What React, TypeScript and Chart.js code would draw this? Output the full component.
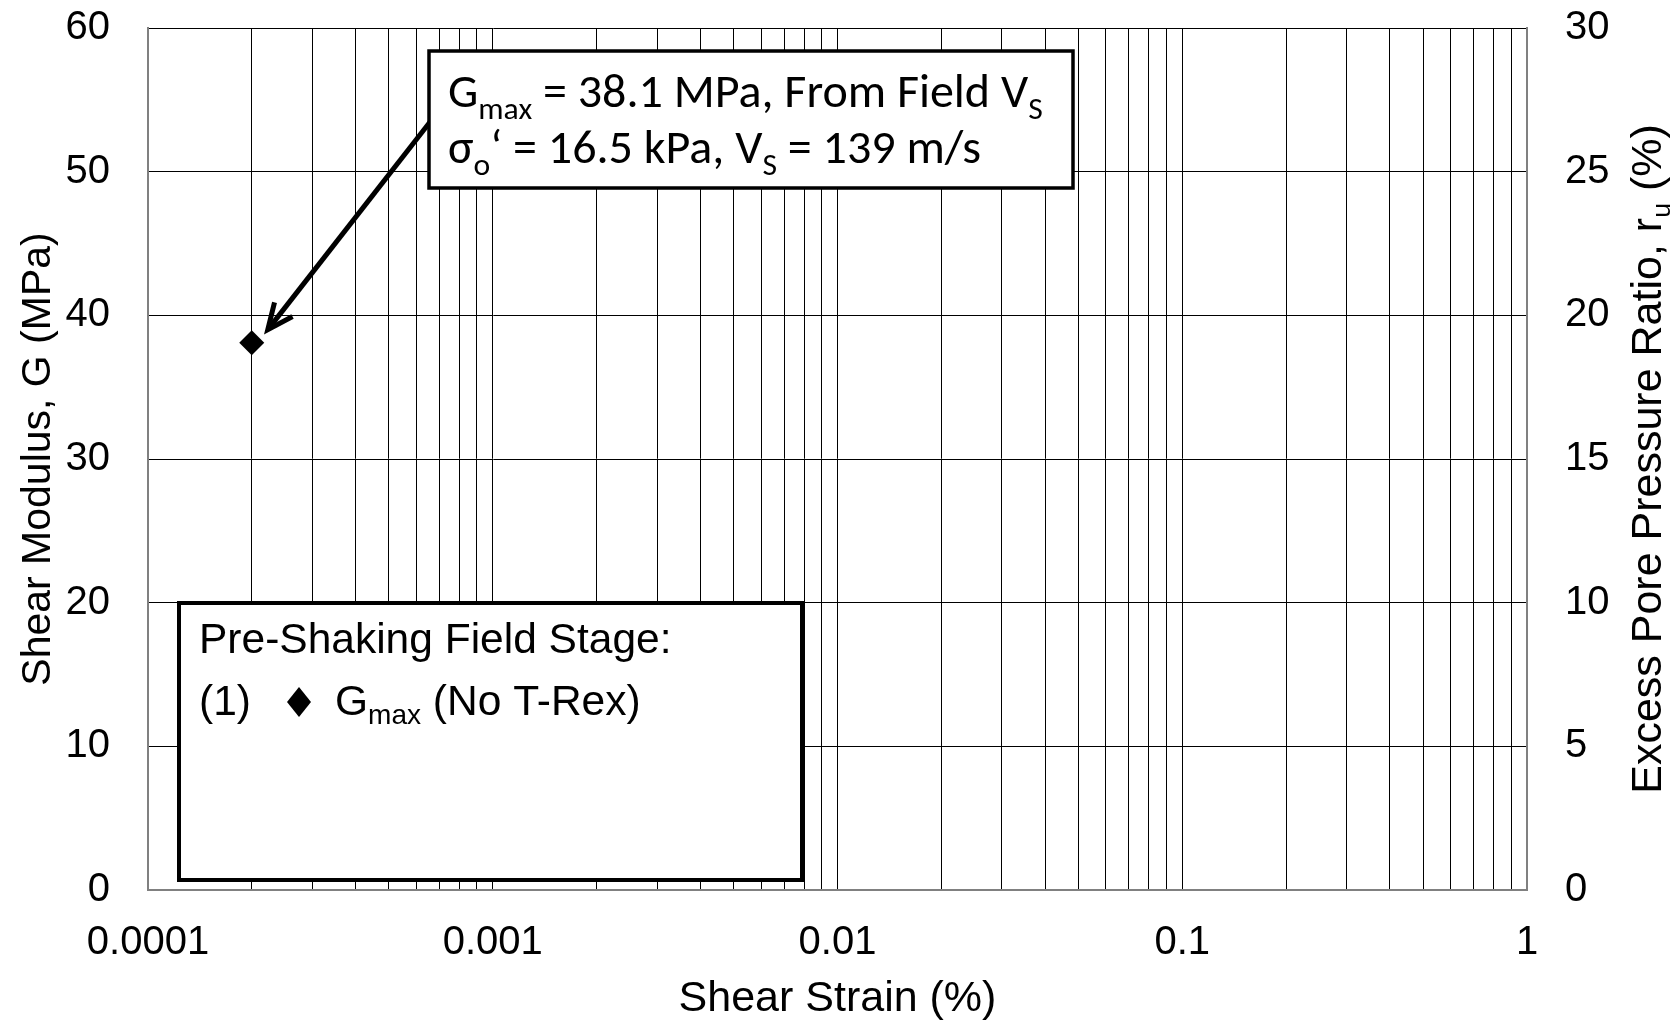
import React, { useEffect, useRef } from 'react';
import { Chart, registerables } from 'chart.js';

Chart.register(...registerables);

// ---- data ----
const strainValues = [0.0002];
const gmaxValues = [38.1];
const xMajorTicks = [0.0001, 0.001, 0.01, 0.1, 1];
const xTickLabels = ['0.0001', '0.001', '0.01', '0.1', '1'];
const minorMultipliers = [2, 3, 4, 5, 6, 7, 8, 9];
const leftRange = [0, 60];
const leftStep = 10;
const rightRange = [0, 30];
const rightStep = 5;

const ARIAL = '"Liberation Sans", Arial, sans-serif';
const CALIBRI = 'Carlito, Lato, "Liberation Sans", sans-serif';

type Seg = { t: string; sub?: boolean };

function segFont(size: number, sub: boolean | undefined, family: string, ratio: number) {
  return `${sub ? size * ratio : size}px ${family}`;
}
function richWidth(ctx: CanvasRenderingContext2D, segs: Seg[], size: number, family: string, ratio = 0.65) {
  let w = 0;
  for (const s of segs) {
    ctx.font = segFont(size, s.sub, family, ratio);
    w += ctx.measureText(s.t).width;
  }
  return w;
}
function drawRich(
  ctx: CanvasRenderingContext2D,
  segs: Seg[],
  x: number,
  y: number,
  size: number,
  family: string,
  ratio = 0.65,
  drop = 0.25
) {
  let cx = x;
  for (const s of segs) {
    ctx.font = segFont(size, s.sub, family, ratio);
    ctx.fillText(s.t, cx, s.sub ? y + size * drop : y);
    cx += ctx.measureText(s.t).width;
  }
}

const annotationPlugin = {
  id: 'annotations',
  afterDraw(chart: any) {
    const ctx: CanvasRenderingContext2D = chart.ctx;
    const area = chart.chartArea;
    const xs = chart.scales.x;
    const ys = chart.scales.y;
    ctx.save();
    ctx.fillStyle = '#000';
    ctx.strokeStyle = '#000';
    ctx.textBaseline = 'alphabetic';
    ctx.textAlign = 'left';

    // right axis title (reads bottom to top, with subscript)
    const rt: Seg[] = [{ t: 'Excess Pore Pressure Ratio, r' }, { t: 'u', sub: true }, { t: ' (%)' }];
    const rsize = 43;
    const rw = richWidth(ctx, rt, rsize, ARIAL, 0.62);
    ctx.save();
    ctx.translate(1646, (area.top + area.bottom) / 2);
    ctx.rotate(-Math.PI / 2);
    drawRich(ctx, rt, -rw / 2, rsize * 0.36, rsize, ARIAL, 0.62, 0.2);
    ctx.restore();

    // arrow from annotation box to the data point
    const px = xs.getPixelForValue(strainValues[0]);
    const py = ys.getPixelForValue(gmaxValues[0]);
    const tipX = px + 16;
    const tipY = py - 13;
    const startX = 430;
    const startY = 122;
    ctx.lineWidth = 5;
    ctx.lineCap = 'butt';
    ctx.beginPath();
    ctx.moveTo(startX, startY);
    ctx.lineTo(tipX + 2, tipY - 2.5);
    ctx.stroke();
    const ang = Math.atan2(tipY - startY, tipX - startX);
    const head = 28;
    const spread = 0.42;
    ctx.lineJoin = 'miter';
    ctx.beginPath();
    ctx.moveTo(tipX - head * Math.cos(ang - spread), tipY - head * Math.sin(ang - spread));
    ctx.lineTo(tipX, tipY);
    ctx.lineTo(tipX - head * Math.cos(ang + spread), tipY - head * Math.sin(ang + spread));
    ctx.stroke();

    // annotation box
    const bx = 429, by = 51, bw = 644, bh = 137;
    ctx.fillStyle = '#fff';
    ctx.fillRect(bx, by, bw, bh);
    ctx.lineWidth = 3.5;
    ctx.strokeRect(bx, by, bw, bh);
    ctx.fillStyle = '#000';
    const l1: Seg[] = [{ t: 'G' }, { t: 'max', sub: true }, { t: ' = 38.1 MPa, From Field V' }, { t: 'S', sub: true }];
    const l2: Seg[] = [{ t: 'σ' }, { t: 'o', sub: true }, { t: '‘ = 16.5 kPa, V' }, { t: 'S', sub: true }, { t: ' = 139 m/s' }];
    const asize = 48;
    drawRich(ctx, l1, 448, 107, asize, CALIBRI, 0.66, 0.25);
    drawRich(ctx, l2, 448, 163, asize, CALIBRI, 0.66, 0.25);

    // legend box
    const lx = 179, ly = 603, lw = 623, lh = 277;
    ctx.fillStyle = '#fff';
    ctx.fillRect(lx, ly, lw, lh);
    ctx.lineWidth = 4;
    ctx.strokeRect(lx, ly, lw, lh);
    ctx.fillStyle = '#000';
    const lsize = 42.5;
    ctx.font = `${lsize}px ${ARIAL}`;
    ctx.fillText('Pre-Shaking Field Stage:', 199, 653);
    ctx.fillText('(1)', 199, 715);
    // legend diamond marker
    ctx.beginPath();
    ctx.moveTo(299, 687);
    ctx.lineTo(311, 702);
    ctx.lineTo(299, 717);
    ctx.lineTo(287, 702);
    ctx.closePath();
    ctx.fill();
    drawRich(ctx, [{ t: 'G' }, { t: 'max', sub: true }, { t: ' (No T-Rex)' }], 335, 715, lsize, ARIAL, 0.66, 0.22);

    ctx.restore();
  },
};

export default function App() {
  const ref = useRef<HTMLCanvasElement>(null);
  useEffect(() => {
    document.body.style.margin = '0';
    const canvas = ref.current!;
    const chart = new Chart(canvas, {
      type: 'scatter',
      data: {
        datasets: [
          {
            label: 'Gmax (No T-Rex)',
            data: strainValues.map((x, i) => ({ x, y: gmaxValues[i] })),
            pointStyle: 'rectRot',
            pointRadius: 12.5,
            pointHoverRadius: 12.5,
            backgroundColor: '#000',
            borderColor: '#000',
            borderWidth: 0,
            showLine: false,
            yAxisID: 'y',
          },
        ],
      },
      options: {
        responsive: false,
        animation: false,
        events: [],
        layout: { padding: { top: 28, left: 0, right: 0, bottom: 0 } },
        plugins: { legend: { display: false }, tooltip: { enabled: false }, title: { display: false } },
        scales: {
          x: {
            type: 'logarithmic',
            position: 'bottom',
            min: xMajorTicks[0],
            max: xMajorTicks[xMajorTicks.length - 1],
            afterBuildTicks: (scale: any) => {
              const t: any[] = [];
              for (let d = 0; d < xMajorTicks.length - 1; d++) {
                t.push({ value: xMajorTicks[d] });
                for (const m of minorMultipliers) t.push({ value: xMajorTicks[d] * m });
              }
              t.push({ value: xMajorTicks[xMajorTicks.length - 1] });
              scale.ticks = t;
            },
            afterFit: (scale: any) => {
              scale.height = 131;
              scale.paddingLeft = 0;
              scale.paddingRight = 0;
            },
            ticks: {
              autoSkip: false,
              maxRotation: 0,
              minRotation: 0,
              padding: 29,
              color: '#000',
              font: { family: ARIAL, size: 40 },
              callback: (value: any) => {
                const v = Number(value);
                const i = xMajorTicks.findIndex((m) => Math.abs(m - v) / m < 1e-6);
                return i >= 0 ? xTickLabels[i] : '';
              },
            },
            grid: { color: '#000', lineWidth: 1, drawTicks: false },
            border: { color: '#808080', width: 2 },
            title: {
              display: true,
              text: 'Shear Strain (%)',
              color: '#000',
              font: { family: ARIAL, size: 43, lineHeight: 1 },
              padding: { top: 0, bottom: 0 },
            },
          },
          y: {
            type: 'linear',
            position: 'left',
            min: leftRange[0],
            max: leftRange[1],
            afterFit: (scale: any) => {
              scale.width = 148;
              scale.paddingTop = 0;
              scale.paddingBottom = 0;
            },
            ticks: {
              stepSize: leftStep,
              padding: 38,
              color: '#000',
              font: { family: ARIAL, size: 40 },
            },
            grid: { color: '#000', lineWidth: 1, drawTicks: false },
            border: { color: '#808080', width: 2 },
            title: {
              display: true,
              text: 'Shear Modulus, G (MPa)',
              color: '#000',
              font: { family: ARIAL, size: 41, lineHeight: 1 },
              padding: { top: 18, bottom: 0 },
            },
          },
          y2: {
            type: 'linear',
            position: 'right',
            min: rightRange[0],
            max: rightRange[1],
            afterFit: (scale: any) => {
              scale.width = 152;
              scale.paddingTop = 0;
              scale.paddingBottom = 0;
            },
            ticks: {
              stepSize: rightStep,
              padding: 38,
              color: '#000',
              font: { family: ARIAL, size: 40 },
            },
            grid: { display: true, drawOnChartArea: false, drawTicks: false },
            border: { color: '#808080', width: 2 },
          },
        },
      },
      plugins: [annotationPlugin],
    } as any);
    return () => chart.destroy();
  }, []);
  return <canvas ref={ref} width={1679} height={1021} style={{ display: 'block', width: 1679, height: 1021 }} />;
}
